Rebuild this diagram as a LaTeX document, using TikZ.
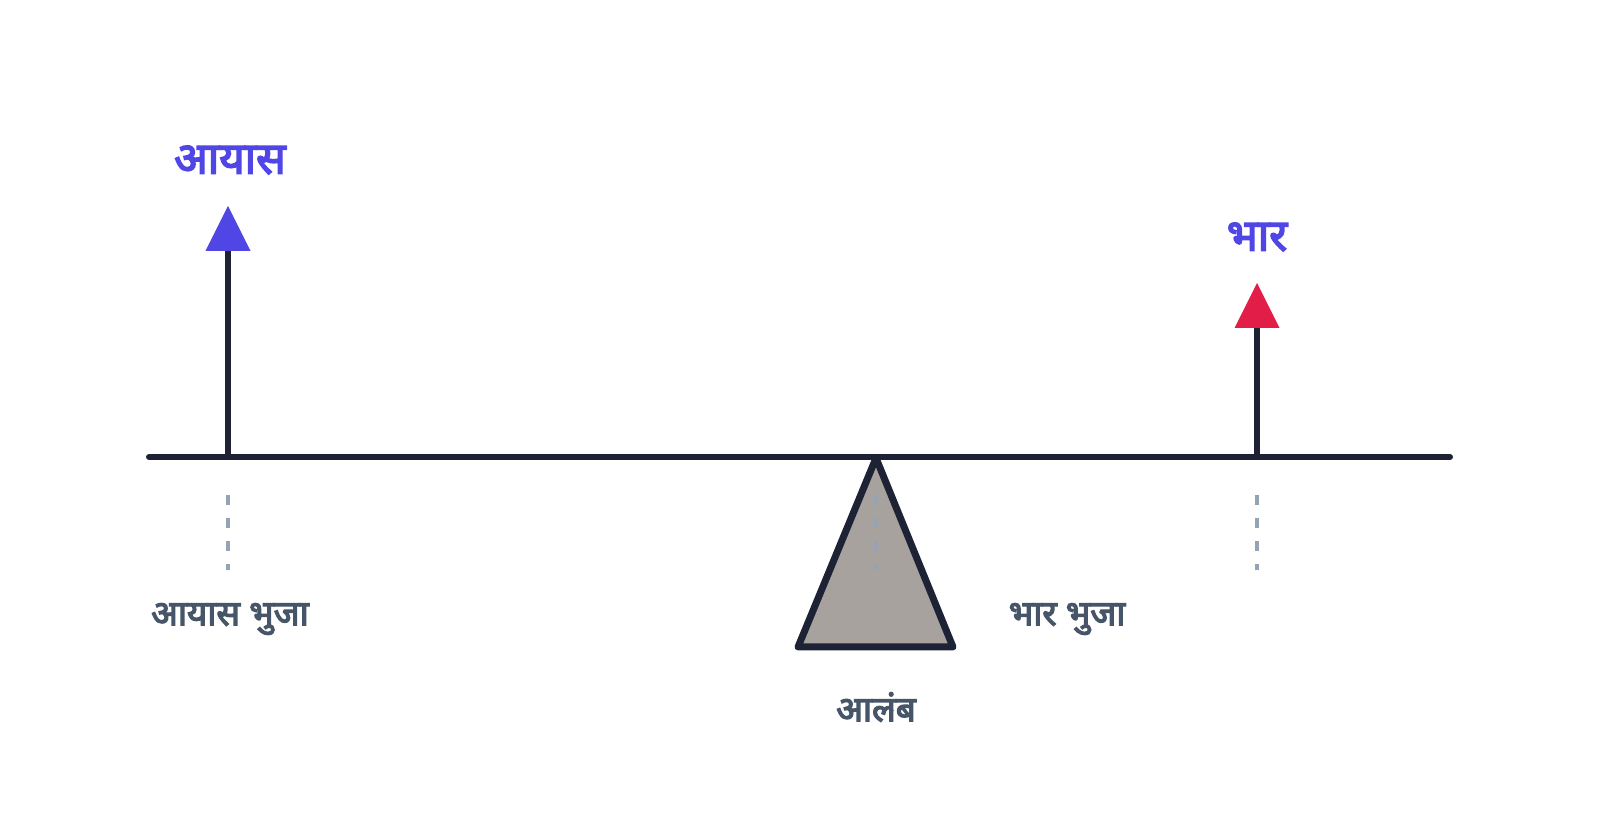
\documentclass[tikz,border=0pt]{standalone}
\usepackage{fontspec}
\newfontfamily\devfont[Script=Devanagari,FakeBold=3.5]{Noto Sans}
\usetikzlibrary{arrows.meta,positioning}
\definecolor{beamnavy}{HTML}{1E2235}
\definecolor{effortblue}{HTML}{4F46E5}
\definecolor{loadred}{HTML}{E11D48}
\definecolor{armgray}{HTML}{475569}
\definecolor{dashgray}{HTML}{94A3B8}
\definecolor{stonefill}{HTML}{A8A29E}
\begin{document}
\begin{tikzpicture}[x=0.5pt,y=-0.5pt,
beam/.style={draw=beamnavy,line width=3pt,line cap=round},
shaft/.style={draw=beamnavy,line width=3pt},
guide/.style={draw=dashgray,line width=2pt,dash pattern=on 5pt off 6.5pt},
forcelabel/.style={text=effortblue,inner sep=0pt,font=\devfont\fontsize{22}{26}\selectfont},
armlabel/.style={text=armgray,inner sep=0pt,font=\devfont\fontsize{17.5}{21}\selectfont}]
\useasboundingbox (0,0) rectangle (1600,838);

\coordinate (beamL) at (149,457);
\coordinate (beamR) at (1450,457);
\coordinate (effortfoot) at (228,457);
\coordinate (efforttip) at (228,206);
\coordinate (loadfoot) at (1257,457);
\coordinate (loadtip) at (1257,283);
\coordinate (apex) at (876,458);
\coordinate (baseL) at (798,647);
\coordinate (baseR) at (953,647);

% fulcrum and beam
\filldraw[fill=stonefill,draw=beamnavy,line width=3.5pt,line join=round] (apex) -- (baseR) -- (baseL) -- cycle;
\draw[beam] (beamL) -- (beamR);

% forces
\draw[shaft,-{Triangle[length=22.5pt,width=22.5pt,line width=0pt,color=effortblue]}] (effortfoot) -- (efforttip);
\draw[shaft,-{Triangle[length=22.5pt,width=22.5pt,line width=0pt,color=loadred]}] (loadfoot) -- (loadtip);

% guides
\draw[guide] (228,495) coordinate (effortguide) -- (228,570);
\draw[guide] (876,495) coordinate (fulcrumguide) -- (876,570);
\draw[guide] (1257,495) coordinate (loadguide) -- (1257,570);

\node[forcelabel] (effortlabel) at (230,160) {आयास};
\node[forcelabel] (loadlabel) at (1257,237) {भार};
\node[armlabel] (effortarm) at (230,619) {आयास भुजा};
\node[armlabel] (loadarm) at (1067,619) {भार भुजा};
\node[armlabel] (fulcrumlabel) at (876,707) {आलंब};

\end{tikzpicture}
\end{document}
